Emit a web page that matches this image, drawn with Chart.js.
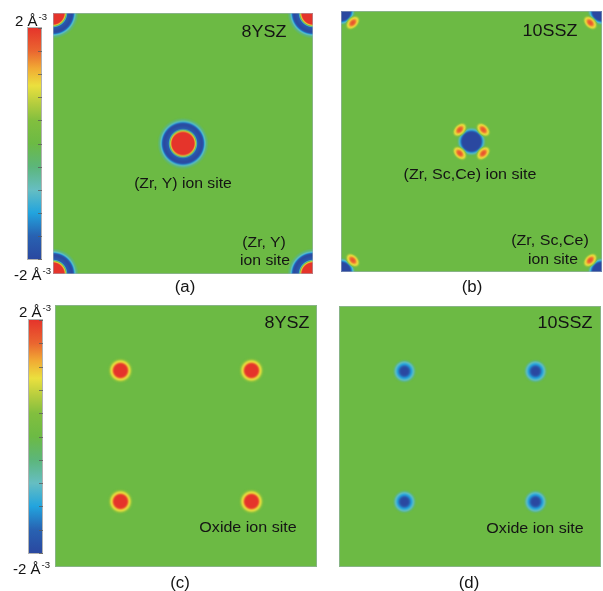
<!DOCTYPE html>
<html>
<head>
<meta charset="utf-8">
<title>Charge density difference maps</title>
<script src="https://cdn.jsdelivr.net/npm/chart.js@4.4.1/dist/chart.umd.min.js"></script>
<style>
  html, body { margin:0; padding:0; background:#fff; }
  body { position:relative; width:603px; height:591px; overflow:hidden;
         font-family:"Liberation Sans", Arial, Helvetica, sans-serif; color:#141414; }
  .box { position:absolute; }
  .box canvas { display:block; }
  .t { position:absolute; white-space:nowrap; line-height:1; }
  .t sup { font-size:0.64em; vertical-align:0; position:relative; top:-0.62em; margin-left:1px; }
</style>
</head>
<body>
<script>
// ---------------- data ----------------
const CELL = 5.1;   // Å, side of the plotted section

// colour scale of the density difference (Å^-3)
const scaleValues = [-2.0, -1.6, -1.2, -0.8, -0.4, 0.0, 0.4, 0.7, 1.0, 1.3, 1.6, 2.0];
const scaleColors = ['#2a48a0', '#2862b2', '#22a4de', '#66bec2', '#5cb67a', '#6cba44',
                     '#82bf3e', '#b6cd3e', '#ebe03e', '#f1aa34', '#ea6630', '#e5342b'];
const scaleTicks = [-2.0, -1.6, -1.2, -0.8, -0.4, 0.0, 0.4, 0.8, 1.2, 1.6, 2.0];

// cation sites in the section (Å)
const cationX = [0, 2.55, 5.1, 0, 5.1];
const cationY = [0, 2.55, 0, 5.1, 5.1];
// oxide ion sites (Å)
const oxideX = [1.275, 3.825, 1.275, 3.825];
const oxideY = [3.825, 3.825, 1.275, 1.275];

// radial profiles: distance from the site (Å) and density difference (Å^-3)
const yszCationR = [0, 0.215, 0.244, 0.264, 0.283, 0.371, 0.401, 0.420, 0.449, 0.508];
const yszCationV = [2.6, 2.1, 1.0, -0.3, -1.7, -2.0, -1.7, -1.1, -0.5, 0];

const sszCationR = [0, 0.180, 0.205, 0.232, 0.260, 0.293];
const sszCationV = [-2.2, -2.0, -1.5, -0.9, -0.3, 0];

// the four charge lobes around each Sc/Ce cation (offset in Å, tilt in degrees)
const sszLobeR = [0, 0.060, 0.095, 0.125, 0.150, 0.175];
const sszLobeV = [1.8, 1.55, 1.15, 0.85, 0.4, 0];
const sszLobeAspect = 0.65;
const sszLobeDX = [-0.23, 0.23, -0.23, 0.23];
const sszLobeDY = [0.23, 0.23, -0.23, -0.23];
const sszLobeAngle = [-45, 45, 45, -45];

const yszOxideR = [0, 0.117, 0.147, 0.166, 0.195, 0.215, 0.254];
const yszOxideV = [2.5, 2.1, 1.5, 1.05, 0.8, 0.4, 0];

const sszOxideR = [0, 0.078, 0.107, 0.137, 0.176, 0.205, 0.234];
const sszOxideV = [-2.2, -1.9, -1.5, -1.2, -0.8, -0.3, 0];

// ---------------- colour helpers ----------------
function hexRgb(h) {
  return [parseInt(h.slice(1, 3), 16), parseInt(h.slice(3, 5), 16), parseInt(h.slice(5, 7), 16)];
}
const scaleRgb = scaleColors.map(hexRgb);

function colorAt(v) {
  if (v <= scaleValues[0]) return scaleRgb[0];
  const n = scaleValues.length - 1;
  if (v >= scaleValues[n]) return scaleRgb[n];
  for (let i = 0; i < n; i++) {
    if (v <= scaleValues[i + 1]) {
      const t = (v - scaleValues[i]) / (scaleValues[i + 1] - scaleValues[i]);
      const a = scaleRgb[i], b = scaleRgb[i + 1];
      return [a[0] + (b[0] - a[0]) * t, a[1] + (b[1] - a[1]) * t, a[2] + (b[2] - a[2]) * t];
    }
  }
  return scaleRgb[n];
}

function profileValue(rs, vs, d) {
  const n = rs.length - 1;
  if (d >= rs[n]) return 0;
  for (let i = 0; i < n; i++) {
    if (d <= rs[i + 1]) {
      const t = (d - rs[i]) / (rs[i + 1] - rs[i]);
      return vs[i] + (vs[i + 1] - vs[i]) * t;
    }
  }
  return 0;
}

// point sprite for one site, rendered at the current scale resolution
const spriteCache = new Map();
function siteSprite(key, rs, vs, aspect, pxPerA) {
  const k = key + ':' + pxPerA.toFixed(3);
  if (spriteCache.has(k)) return spriteCache.get(k);
  const half = Math.ceil(rs[rs.length - 1] * pxPerA) + 1;
  const size = half * 2;
  const cv = document.createElement('canvas');
  cv.width = size; cv.height = size;
  const g = cv.getContext('2d');
  const img = g.createImageData(size, size);
  const SS = 3;
  for (let j = 0; j < size; j++) {
    for (let i = 0; i < size; i++) {
      let r = 0, gr = 0, b = 0, a = 0;
      for (let sy = 0; sy < SS; sy++) {
        for (let sx = 0; sx < SS; sx++) {
          const dx = i + (sx + 0.5) / SS - half;
          const dy = j + (sy + 0.5) / SS - half;
          const d = Math.hypot(dx, dy / aspect) / pxPerA;
          const v = profileValue(rs, vs, d);
          const al = Math.min(1, Math.abs(v) / 0.2);
          if (al > 0) {
            const c = colorAt(v);
            r += c[0] * al; gr += c[1] * al; b += c[2] * al; a += al;
          }
        }
      }
      const p = (j * size + i) * 4;
      if (a > 0) {
        img.data[p] = r / a; img.data[p + 1] = gr / a; img.data[p + 2] = b / a;
        img.data[p + 3] = (a / (SS * SS)) * 255;
      }
    }
  }
  g.putImageData(img, 0, 0);
  spriteCache.set(k, cv);
  return cv;
}

// ---------------- layout helpers ----------------
function makeCanvas(left, top, w, h) {
  const box = document.createElement('div');
  box.className = 'box';
  box.style.left = left + 'px'; box.style.top = top + 'px';
  box.style.width = w + 'px'; box.style.height = h + 'px';
  const cv = document.createElement('canvas');
  cv.width = w; cv.height = h;
  cv.style.width = w + 'px'; cv.style.height = h + 'px';
  box.appendChild(cv);
  document.body.appendChild(box);
  return cv;
}

function text(html, cx, cy, size, sx) {
  const el = document.createElement('div');
  el.className = 't';
  el.innerHTML = html;
  el.style.fontSize = size + 'px';
  el.style.left = cx + 'px';
  el.style.top = cy + 'px';
  el.style.transform = 'translate(-50%, -50%) scaleX(' + (sx || 1) + ')';
  document.body.appendChild(el);
}

function textLeft(html, left, cy, size) {
  const el = document.createElement('div');
  el.className = 't';
  el.innerHTML = html;
  el.style.fontSize = size + 'px';
  el.style.left = left + 'px';
  el.style.top = (cy - size * 0.5) + 'px';
  document.body.appendChild(el);
}

// green field + thin frame of each map
const mapFrame = {
  id: 'mapFrame',
  beforeDatasetsDraw(chart) {
    const a = chart.chartArea, c = chart.ctx, z = colorAt(0);
    c.save();
    c.fillStyle = 'rgb(' + z.map(Math.round).join(',') + ')';
    c.fillRect(a.left, a.top, a.right - a.left, a.bottom - a.top);
    c.restore();
  },
  afterDraw(chart) {
    const a = chart.chartArea, c = chart.ctx;
    c.save();
    c.strokeStyle = 'rgba(160,175,190,0.55)';
    c.lineWidth = 1;
    c.strokeRect(a.left + 0.5, a.top + 0.5, a.right - a.left - 1, a.bottom - a.top - 1);
    c.restore();
  }
};

function siteDataset(key, xs, ys, rs, vs, aspect, angles) {
  return {
    key: key,
    data: xs.map((x, i) => ({ x: x, y: ys[i], angle: angles ? angles[i] : 0 })),
    pointStyle: c => {
      const w = c.chart.scales.x ? c.chart.scales.x.width : 0;
      return w > 0 ? siteSprite(key, rs, vs, aspect, w / CELL) : 'circle';
    },
    rotation: c => (c.raw && c.raw.angle) || 0,
    pointRadius: 3,
    pointBorderWidth: 0,
    clip: 0
  };
}

function mapChart(canvas, datasets) {
  return new Chart(canvas, {
    type: 'scatter',
    data: { datasets: datasets },
    options: {
      responsive: false,
      animation: false,
      events: [],
      layout: { padding: 0, autoPadding: false },
      scales: {
        x: { type: 'linear', min: 0, max: CELL, display: false },
        y: { type: 'linear', min: 0, max: CELL, display: false }
      },
      plugins: { legend: { display: false }, tooltip: { enabled: false } }
    },
    plugins: [mapFrame]
  });
}

// colour bar with tick marks on its right edge
const barTicks = {
  id: 'barTicks',
  afterDatasetsDraw(chart) {
    const a = chart.chartArea, c = chart.ctx, y = chart.scales.y;
    c.save();
    c.strokeStyle = 'rgba(170,170,170,0.9)';
    c.lineWidth = 1;
    c.strokeRect(a.left - 0.5, a.top - 0.5, a.right - a.left + 1, a.bottom - a.top + 1);
    c.strokeStyle = 'rgba(90,90,90,0.75)';
    scaleTicks.forEach(v => {
      const py = Math.round(y.getPixelForValue(v)) + 0.5;
      c.beginPath();
      c.moveTo(a.right - 3, py);
      c.lineTo(a.right + 1, py);
      c.stroke();
    });
    c.restore();
  }
};

function colourBar(canvas) {
  return new Chart(canvas, {
    type: 'bar',
    data: {
      labels: ['Δρ'],
      datasets: [{
        data: [[scaleValues[0], scaleValues[scaleValues.length - 1]]],
        backgroundColor: c => {
          const a = c.chart.chartArea;
          if (!a) return scaleColors[5];
          const g = c.chart.ctx.createLinearGradient(0, a.bottom, 0, a.top);
          const lo = scaleValues[0], hi = scaleValues[scaleValues.length - 1];
          scaleValues.forEach((v, i) => g.addColorStop((v - lo) / (hi - lo), scaleColors[i]));
          return g;
        },
        borderWidth: 0,
        categoryPercentage: 1,
        barPercentage: 1
      }]
    },
    options: {
      responsive: false,
      animation: false,
      events: [],
      layout: { padding: { left: 2, right: 3, top: 2, bottom: 2 }, autoPadding: false },
      scales: {
        x: { display: false },
        y: { min: -2, max: 2, display: false }
      },
      plugins: { legend: { display: false }, tooltip: { enabled: false } }
    },
    plugins: [barTicks]
  });
}

// ---------------- build ----------------
const lobeX = [], lobeY = [], lobeA = [];
cationX.forEach((x, i) => {
  sszLobeDX.forEach((dx, k) => {
    lobeX.push(x + dx); lobeY.push(cationY[i] + sszLobeDY[k]); lobeA.push(sszLobeAngle[k]);
  });
});

colourBar(makeCanvas(26, 26, 18, 235));
colourBar(makeCanvas(27, 318, 18, 237));

mapChart(makeCanvas(53, 13, 260, 261), [
  siteDataset('yszCation', cationX, cationY, yszCationR, yszCationV, 1)
]);
mapChart(makeCanvas(341, 11, 261, 261), [
  siteDataset('sszLobe', lobeX, lobeY, sszLobeR, sszLobeV, sszLobeAspect, lobeA),
  siteDataset('sszCation', cationX, cationY, sszCationR, sszCationV, 1)
]);
mapChart(makeCanvas(55, 305, 262, 262), [
  siteDataset('yszOxide', oxideX, oxideY, yszOxideR, yszOxideV, 1)
]);
mapChart(makeCanvas(339, 306, 262, 261), [
  siteDataset('sszOxide', oxideX, oxideY, sszOxideR, sszOxideV, 1)
]);

// colour bar labels
textLeft('2 Å<sup>-3</sup>', 15, 20, 15);
textLeft('-2 Å<sup>-3</sup>', 14, 274, 15);
textLeft('2 Å<sup>-3</sup>', 19, 311, 15);
textLeft('-2 Å<sup>-3</sup>', 13, 568, 15);

// (a) 8YSZ, cation plane
text('8YSZ', 263.5, 32, 16, 1.12);
text('(Zr, Y) ion site', 183, 182, 15, 1.05);
text('(Zr, Y)', 264, 241, 15, 1.05);
text('ion site', 265, 259, 15, 1.05);
text('(a)', 185, 287, 16, 1.05);

// (b) 10SSZ, cation plane
text('10SSZ', 550, 31, 16, 1.12);
text('(Zr, Sc,Ce) ion site', 470, 173, 15, 1.07);
text('(Zr, Sc,Ce)', 550, 239, 15, 1.07);
text('ion site', 553, 258, 15, 1.05);
text('(b)', 472, 287, 16, 1.05);

// (c) 8YSZ, oxide plane
text('8YSZ', 287, 323, 16, 1.12);
text('Oxide ion site', 248, 526, 15, 1.07);
text('(c)', 180, 583, 16, 1.05);

// (d) 10SSZ, oxide plane
text('10SSZ', 565, 323, 16, 1.12);
text('Oxide ion site', 535, 527, 15, 1.07);
text('(d)', 469, 583, 16, 1.05);
</script>
</body>
</html>
